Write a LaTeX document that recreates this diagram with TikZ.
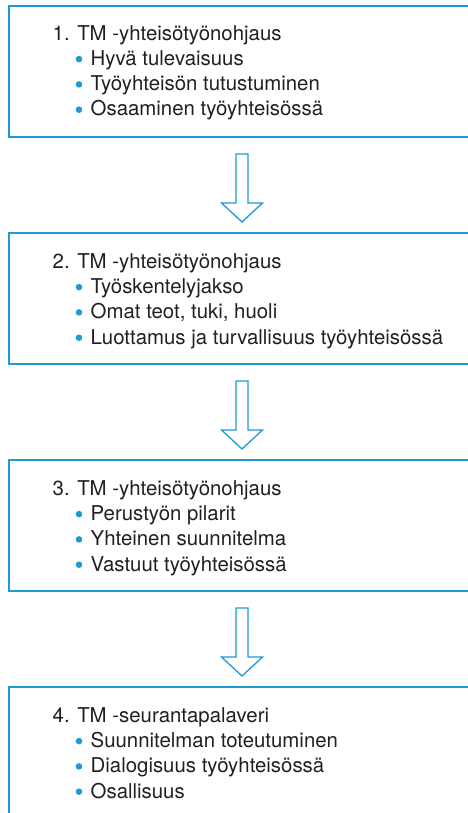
\documentclass[tikz,border=0pt]{standalone}
\usepackage{fontspec}
\setmainfont{TeX Gyre Heros}
\usetikzlibrary{calc}
\definecolor{accent}{RGB}{30,155,215}
\definecolor{ink}{RGB}{35,31,32}
\newcommand{\ind}{\hspace*{38pt}}
\tikzset{
  x=1pt, y=-1pt,
  stage/.style={draw=accent, line width=2pt, minimum width=472pt,
    minimum height=131pt, anchor=north west, inner sep=0pt},
  stagetext/.style={anchor=base west, align=left, inner sep=0pt,
    font=\fontsize{20.4}{25.3}\selectfont, text=ink},
  dot/.style={fill=accent, draw=none},
  flowarrow/.style={draw=accent, line width=1.3pt, fill=white, line join=miter}
}
% hollow block arrow pointing down, starting at the top centre of its shaft
\newcommand{\downarrowat}[1]{%
  \draw[flowarrow] (#1) ++(-6,0) -- ++(0,49) -- ++(-14.5,0) -- ++(20.5,19)
    -- ++(20.5,-19) -- ++(-14.5,0) -- ++(0,-49) -- cycle;}
% three bullets, the last one sitting on the baseline given
\newcommand{\bulletsfor}[1]{%
  \fill[dot] ($(#1.base west)+(26.5,-56.9)$) circle (3.3);
  \fill[dot] ($(#1.base west)+(26.5,-31.6)$) circle (3.3);
  \fill[dot] ($(#1.base west)+(26.5,-6.3)$) circle (3.3);}
\begin{document}
\begin{tikzpicture}
\useasboundingbox (0,0) rectangle (468,813);
\clip (0,0) rectangle (468,813);

\node[stage] (b1) at (8,5) {};
\node[stage] (b2) at (8,232) {};
\node[stage] (b3) at (8,459) {};
\node[stage, minimum height=160pt] (b4) at (8,686) {};

\node[stagetext] (t1) at (52.5,116) {1. TM -yhteisötyönohjaus\\
  \ind Hyvä tulevaisuus\\
  \ind Työyhteisön tutustuminen\\
  \ind Osaaminen työyhteisössä};
\node[stagetext] (t2) at (52.5,344) {2. TM -yhteisötyönohjaus\\
  \ind Työskentelyjakso\\
  \ind Omat teot, tuki, huoli\\
  \ind Luottamus ja turvallisuus työyhteisössä};
\node[stagetext] (t3) at (52.5,571) {3. TM -yhteisötyönohjaus\\
  \ind Perustyön pilarit\\
  \ind Yhteinen suunnitelma\\
  \ind Vastuut työyhteisössä};
\node[stagetext] (t4) at (52.5,798) {4. TM -seurantapalaveri\\
  \ind Suunnitelman toteutuminen\\
  \ind Dialogisuus työyhteisössä\\
  \ind Osallisuus};
\bulletsfor{t1}
\bulletsfor{t2}
\bulletsfor{t3}
\bulletsfor{t4}

\coordinate (a1) at ($(b1.south west)+(234,16)$);
\coordinate (a2) at ($(b2.south west)+(234,16)$);
\coordinate (a3) at ($(b3.south west)+(234,16)$);
\downarrowat{a1}
\downarrowat{a2}
\downarrowat{a3}
\end{tikzpicture}
\end{document}
